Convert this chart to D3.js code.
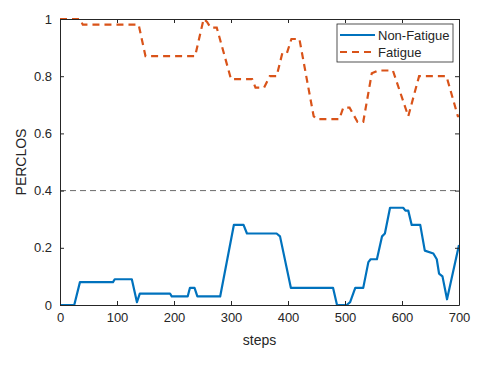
<!DOCTYPE html>
<html>
<head>
<meta charset="utf-8">
<script src="https://cdn.jsdelivr.net/npm/d3@7"></script>
<style>
  body { margin: 0; background: #fff; }
  text { font-family: "Liberation Sans", Arial, sans-serif; fill: #262626; }
</style>
</head>
<body>
<svg width="497" height="369"></svg>
<script>

// data

var fatigueSteps = [0, 35, 40, 138, 150, 237, 252, 258, 264, 275, 300, 337, 343, 358, 368, 380, 390, 398, 406, 420, 445, 450, 490, 497, 508, 522, 532, 547, 558, 584, 611, 630, 678, 698, 700];
var fatigueVals  = [1, 1, 0.98, 0.98, 0.87, 0.87, 1, 0.99, 0.97, 0.97, 0.79, 0.79, 0.76, 0.76, 0.80, 0.80, 0.88, 0.88, 0.93, 0.93, 0.66, 0.65, 0.65, 0.69, 0.69, 0.64, 0.64, 0.81, 0.82, 0.82, 0.66, 0.80, 0.80, 0.66, 0.66];

var nonFatigueSteps = [0, 25, 35, 93, 96, 126, 135, 140, 193, 196, 224, 228, 236, 241, 281, 305, 322, 328, 380, 386, 405, 479, 486, 503, 509, 518, 532, 541, 545, 556, 565, 570, 579, 602, 606, 611, 617, 632, 640, 655, 661, 665, 671, 679, 700];
var nonFatigueVals  = [0, 0, 0.08, 0.08, 0.09, 0.09, 0.01, 0.04, 0.04, 0.03, 0.03, 0.06, 0.06, 0.03, 0.03, 0.28, 0.28, 0.25, 0.25, 0.24, 0.06, 0.06, 0, 0, 0.01, 0.06, 0.06, 0.15, 0.16, 0.16, 0.24, 0.25, 0.34, 0.34, 0.33, 0.33, 0.28, 0.28, 0.19, 0.18, 0.16, 0.11, 0.10, 0.02, 0.21];

var threshold = 0.4;
var xTicks = [0, 100, 200, 300, 400, 500, 600, 700];
var yTicks = [0, 0.2, 0.4, 0.6, 0.8, 1];
var seriesNames = ["Non-Fatigue", "Fatigue"];

var svg = d3.select("svg"),
    margin = {top: 19, right: 38, bottom: 64, left: 60},
    width = svg.attr("width") - margin.left - margin.right,
    height = svg.attr("height") - margin.top - margin.bottom,
    g = svg.append("g").attr("transform", "translate(" + margin.left + "," + margin.top + ")");

var x = d3.scaleLinear().domain([0, 700]).range([0, width]),
    y = d3.scaleLinear().domain([0, 1]).range([height, 0]);

var axisColor = "#262626";

function pts(steps, vals) {
  return steps.map(function(s, i) { return {s: s, v: vals[i]}; });
}

var line = d3.line()
    .x(function(d) { return x(d.s); })
    .y(function(d) { return y(d.v); });

// threshold line
g.append("line")
    .attr("x1", x(0)).attr("x2", x(700))
    .attr("y1", y(threshold)).attr("y2", y(threshold))
    .attr("stroke", "#444").attr("stroke-width", 0.8)
    .attr("stroke-dasharray", "6,4");

// series
g.append("path")
    .datum(pts(nonFatigueSteps, nonFatigueVals))
    .attr("fill", "none")
    .attr("stroke", "#0072BD")
    .attr("stroke-width", 2.2)
    .attr("stroke-linejoin", "round")
    .attr("d", line);

g.append("path")
    .datum(pts(fatigueSteps, fatigueVals))
    .attr("fill", "none")
    .attr("stroke", "#D95319")
    .attr("stroke-width", 2.2)
    .attr("stroke-dasharray", "7,5")
    .attr("d", line);

// axes (box with inward ticks, matlab style)
var xa = g.append("g")
    .attr("transform", "translate(0," + height + ")")
    .call(d3.axisBottom(x).tickValues(xTicks).tickSizeInner(-4).tickSizeOuter(0).tickPadding(8));
var ya = g.append("g")
    .call(d3.axisLeft(y).tickValues(yTicks).tickFormat(d3.format("~g")).tickSizeInner(-4).tickSizeOuter(0).tickPadding(8));
var xt = g.append("g")
    .call(d3.axisTop(x).tickValues(xTicks).tickSizeInner(-4).tickSizeOuter(0).tickFormat(""));
var yr = g.append("g")
    .attr("transform", "translate(" + width + ",0)")
    .call(d3.axisRight(y).tickValues(yTicks).tickSizeInner(-4).tickSizeOuter(0).tickFormat(""));

[xa, ya, xt, yr].forEach(function(a) {
  a.selectAll("path").attr("stroke", axisColor).attr("stroke-width", 1);
  a.selectAll("line").attr("stroke", axisColor);
  a.selectAll("text").style("font-size", "13px").attr("fill", axisColor)
      .style("font-family", "'Liberation Sans', Arial, sans-serif");
});

g.append("text")
    .attr("x", width / 2).attr("y", height + 40)
    .attr("text-anchor", "middle")
    .style("font-size", "14px")
    .text("steps");

g.append("text")
    .attr("transform", "rotate(-90)")
    .attr("x", -height / 2).attr("y", -34)
    .attr("text-anchor", "middle")
    .style("font-size", "14px")
    .text("PERCLOS");

// legend
var leg = g.append("g").attr("transform", "translate(" + (337 - margin.left) + "," + (24 - margin.top) + ")");
leg.append("rect")
    .attr("width", 116).attr("height", 38)
    .attr("fill", "#fff").attr("stroke", "#262626").attr("stroke-width", 0.8);

seriesNames.forEach(function(name, i) {
  var yy = 11 + i * 17;
  leg.append("line")
      .attr("x1", 3).attr("x2", 38).attr("y1", yy).attr("y2", yy)
      .attr("stroke", i == 0 ? "#0072BD" : "#D95319")
      .attr("stroke-width", 2.2)
      .attr("stroke-dasharray", i == 0 ? null : "7,5");
  leg.append("text")
      .attr("x", 41).attr("y", yy).attr("dy", "0.35em")
      .style("font-size", "13px")
      .text(name);
});

</script>
</body>
</html>
